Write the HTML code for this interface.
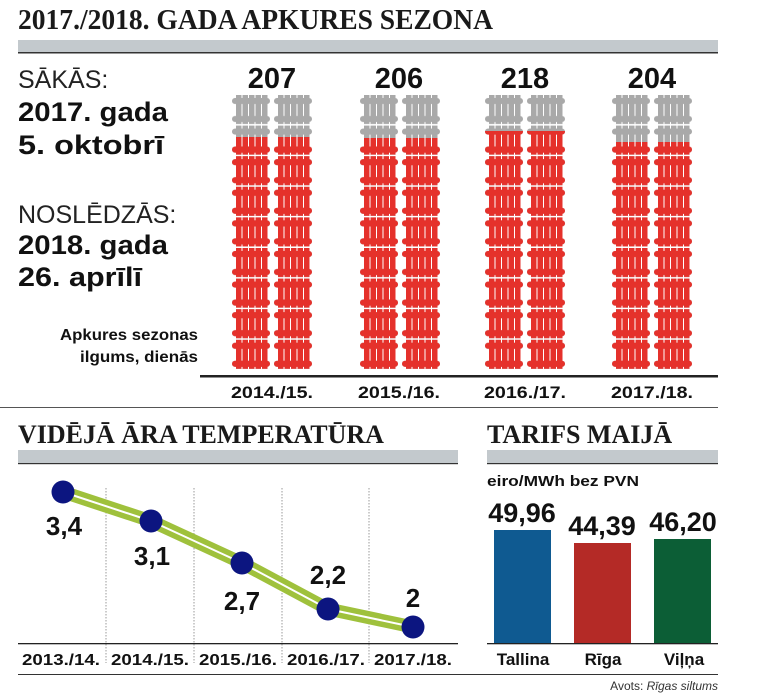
<!DOCTYPE html>
<html><head><meta charset="utf-8"><style>
html,body{margin:0;padding:0;background:#fff;}
svg{display:block;}
text{font-family:"Liberation Sans",sans-serif;}
.slab{font-family:"Liberation Serif",serif;font-weight:bold;}
.b{font-weight:bold;fill:#111;}
</style></head><body>
<svg width="774" height="694" viewBox="0 0 774 694" xmlns="http://www.w3.org/2000/svg">
<defs>
<g id="rad">
 <rect x="0" y="3" width="38" height="6" rx="3"/>
 <rect x="0" y="21" width="38" height="6" rx="3"/>
 <rect x="4" y="0" width="5.5" height="29"/>
 <rect x="10.5" y="0" width="5.5" height="29"/>
 <rect x="17" y="0" width="5.5" height="29"/>
 <rect x="23.5" y="0" width="5.5" height="29"/>
 <rect x="30" y="0" width="5.5" height="29"/>
</g>
<pattern id="pg" patternUnits="userSpaceOnUse" width="42" height="30.6"><use href="#rad" fill="#a9a9a9"/></pattern>
<pattern id="pr" patternUnits="userSpaceOnUse" width="42" height="30.6"><use href="#rad" fill="#e5312b"/></pattern>
</defs>

<text x="18" y="29" class="slab" font-size="28" fill="#1a1a1a" textLength="475" lengthAdjust="spacingAndGlyphs">2017./2018. GADA APKURES SEZONA</text>
<rect x="18" y="40" width="700" height="12" fill="#c3c9cd"/>
<rect x="18" y="52" width="700" height="1.5" fill="#333"/>

<text x="18" y="88" font-size="25" fill="#222">SĀKĀS:</text>
<text x="18" y="121" font-size="27" class="b" textLength="150" lengthAdjust="spacingAndGlyphs">2017. gada</text>
<text x="18" y="154" font-size="27" class="b" textLength="146" lengthAdjust="spacingAndGlyphs">5. oktobrī</text>
<text x="18" y="223" font-size="25" fill="#222">NOSLĒDZĀS:</text>
<text x="18" y="254" font-size="27" class="b" textLength="150" lengthAdjust="spacingAndGlyphs">2018. gada</text>
<text x="18" y="286" font-size="27" class="b" textLength="124" lengthAdjust="spacingAndGlyphs">26. aprīlī</text>
<text x="198" y="340" font-size="16" class="b" text-anchor="end" textLength="138" lengthAdjust="spacingAndGlyphs">Apkures sezonas</text>
<text x="198" y="362" font-size="16" class="b" text-anchor="end" textLength="118" lengthAdjust="spacingAndGlyphs">ilgums, dienās</text>

<g font-size="29" class="b" text-anchor="middle">
<text x="272" y="88">207</text><text x="399" y="88">206</text><text x="525" y="88">218</text><text x="652" y="88">204</text>
</g>

<g transform="translate(232,95)"><rect width="40" height="275" fill="url(#pg)"/><rect y="42" width="40" height="233" fill="url(#pr)"/></g>
<g transform="translate(274,95)"><rect width="40" height="275" fill="url(#pg)"/><rect y="42" width="40" height="233" fill="url(#pr)"/></g>
<g transform="translate(360,95)"><rect width="40" height="275" fill="url(#pg)"/><rect y="43" width="40" height="232" fill="url(#pr)"/></g>
<g transform="translate(402,95)"><rect width="40" height="275" fill="url(#pg)"/><rect y="43" width="40" height="232" fill="url(#pr)"/></g>
<g transform="translate(485,95)"><rect width="40" height="275" fill="url(#pg)"/><rect y="36" width="40" height="239" fill="url(#pr)"/></g>
<g transform="translate(527,95)"><rect width="40" height="275" fill="url(#pg)"/><rect y="36" width="40" height="239" fill="url(#pr)"/></g>
<g transform="translate(612,95)"><rect width="40" height="275" fill="url(#pg)"/><rect y="47" width="40" height="228" fill="url(#pr)"/></g>
<g transform="translate(654,95)"><rect width="40" height="275" fill="url(#pg)"/><rect y="47" width="40" height="228" fill="url(#pr)"/></g>

<rect x="200" y="375" width="518" height="2.5" fill="#222"/>
<g font-size="17" class="b" text-anchor="middle">
<text x="272" y="398" textLength="82" lengthAdjust="spacingAndGlyphs">2014./15.</text><text x="399" y="398" textLength="82" lengthAdjust="spacingAndGlyphs">2015./16.</text><text x="525" y="398" textLength="82" lengthAdjust="spacingAndGlyphs">2016./17.</text><text x="652" y="398" textLength="82" lengthAdjust="spacingAndGlyphs">2017./18.</text>
</g>
<rect x="0" y="407" width="718" height="1" fill="#555"/>

<text x="18" y="443" class="slab" font-size="26" fill="#1a1a1a">VIDĒJĀ ĀRA TEMPERATŪRA</text>
<rect x="18" y="450" width="440" height="13" fill="#c3c9cd"/>
<rect x="18" y="463" width="440" height="1.2" fill="#333"/>
<g stroke="#999" stroke-width="1" stroke-dasharray="1.5,1.5">
<line x1="106" y1="488" x2="106" y2="663"/><line x1="194" y1="488" x2="194" y2="663"/><line x1="282" y1="488" x2="282" y2="663"/><line x1="369" y1="488" x2="369" y2="663"/>
</g>
<polyline points="63,492 151,521 242,563 328,609 413,627" fill="none" stroke="#9fc13c" stroke-width="13" stroke-linejoin="round"/>
<polyline points="63,492 151,521 242,563 328,609 413,627" fill="none" stroke="#fff" stroke-width="2" stroke-linejoin="round"/>
<g fill="#0c1580">
<circle cx="63" cy="492" r="11.5"/><circle cx="151" cy="521" r="11.5"/><circle cx="242" cy="563" r="11.5"/><circle cx="328" cy="609" r="11.5"/><circle cx="413" cy="627" r="11.5"/>
</g>
<g font-size="26" class="b" text-anchor="middle">
<text x="64" y="535">3,4</text><text x="152" y="565">3,1</text><text x="242" y="610">2,7</text><text x="328" y="584">2,2</text><text x="413" y="607">2</text>
</g>
<rect x="18" y="643" width="440" height="1.3" fill="#222"/>
<g font-size="16" class="b" text-anchor="middle">
<text x="61" y="665" textLength="78" lengthAdjust="spacingAndGlyphs">2013./14.</text><text x="150" y="665" textLength="78" lengthAdjust="spacingAndGlyphs">2014./15.</text><text x="238" y="665" textLength="78" lengthAdjust="spacingAndGlyphs">2015./16.</text><text x="326" y="665" textLength="78" lengthAdjust="spacingAndGlyphs">2016./17.</text><text x="413" y="665" textLength="78" lengthAdjust="spacingAndGlyphs">2017./18.</text>
</g>
<rect x="18" y="674" width="700" height="1" fill="#333"/>

<text x="487" y="443" class="slab" font-size="26" fill="#1a1a1a">TARIFS MAIJĀ</text>
<rect x="487" y="450" width="231" height="13" fill="#c3c9cd"/>
<rect x="487" y="463" width="231" height="1.2" fill="#333"/>
<text x="487" y="486" font-size="15" class="b" textLength="152" lengthAdjust="spacingAndGlyphs">eiro/MWh bez PVN</text>
<rect x="494" y="530" width="57" height="113" fill="#0f5a91"/>
<rect x="574" y="543" width="57" height="100" fill="#b42a26"/>
<rect x="654" y="539" width="57" height="104" fill="#0c5e36"/>
<g font-size="27" class="b" text-anchor="middle">
<text x="522" y="522">49,96</text><text x="602" y="535">44,39</text><text x="683" y="531">46,20</text>
</g>
<rect x="487" y="643" width="231" height="1.3" fill="#222"/>
<g font-size="17" class="b" text-anchor="middle">
<text x="523" y="665">Tallina</text><text x="603" y="665">Rīga</text><text x="684" y="665">Viļņa</text>
</g>
<text x="718" y="690" font-size="12" fill="#333" text-anchor="end">Avots: <tspan font-style="italic">Rīgas siltums</tspan></text>
</svg>
</body></html>
